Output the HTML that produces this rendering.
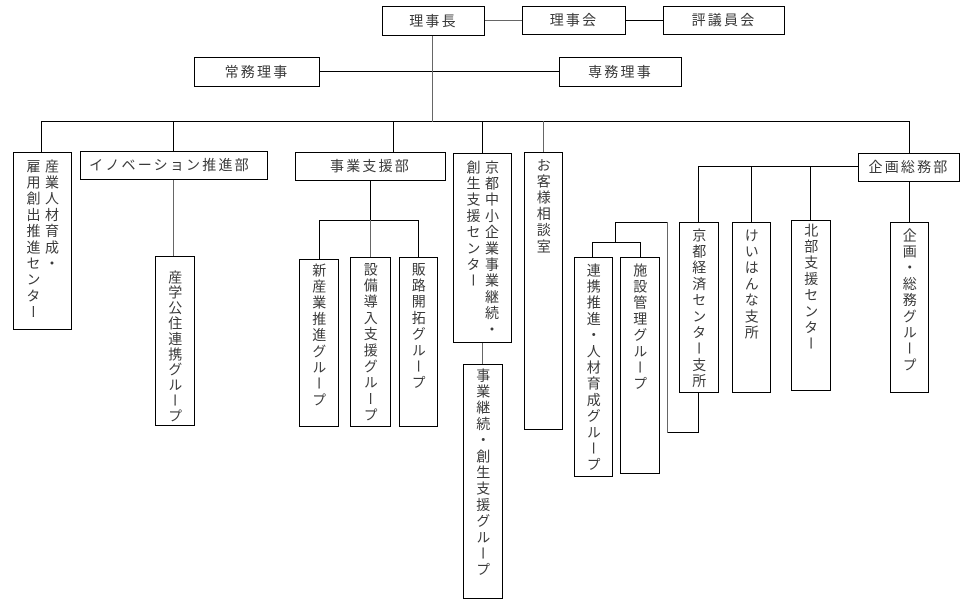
<!DOCTYPE html>
<html>
<head>
<meta charset="utf-8">
<style>
  html,body{margin:0;padding:0;background:#fff;}
  body{width:973px;height:605px;position:relative;overflow:hidden;
    font-family:"Liberation Sans","Noto Sans CJK JP",sans-serif;color:#3a3a3a;}
  svg{position:absolute;left:0;top:0;}
  .b{position:absolute;box-sizing:border-box;border:1px solid #000;background:#fff;}
  .h{text-align:center;font-size:14px;letter-spacing:2.2px;white-space:nowrap;}
  .v{display:flex;justify-content:center;align-items:flex-start;}
  .v>div{writing-mode:vertical-rl;font-size:14px;letter-spacing:2.2px;line-height:18.5px;white-space:nowrap;}
</style>
</head>
<body>
<svg width="973" height="605" viewBox="0 0 973 605" shape-rendering="crispEdges">
  <g fill="#000">
    <rect x="625" y="20" width="39" height="1"/>
    <rect x="319" y="71" width="241" height="1"/>
    <rect x="41" y="121" width="869" height="1"/>
    <rect x="41" y="121" width="1" height="32"/>
    <rect x="173" y="121" width="1" height="31"/>
    <rect x="393" y="121" width="1" height="32"/>
    <rect x="482" y="121" width="1" height="33"/>
    <rect x="909" y="121" width="1" height="33"/>
    <rect x="370" y="180" width="1" height="41"/>
    <rect x="319" y="220" width="100" height="1"/>
    <rect x="319" y="220" width="1" height="40"/>
    <rect x="418" y="220" width="1" height="38"/>
    <rect x="698" y="166" width="161" height="1"/>
    <rect x="698" y="166" width="1" height="57"/>
    <rect x="751" y="166" width="1" height="57"/>
    <rect x="810" y="166" width="1" height="55"/>
    <rect x="909" y="181" width="1" height="42"/>
    <rect x="698" y="392" width="1" height="41"/>
    <rect x="667" y="432" width="32" height="1"/>
    <rect x="615" y="222" width="53" height="1"/>
    <rect x="615" y="222" width="1" height="21"/>
    <rect x="592" y="242" width="49" height="1"/>
    <rect x="592" y="242" width="1" height="16"/>
    <rect x="640" y="242" width="1" height="16"/>
  </g>
  <g fill="#666">
    <rect x="484" y="20" width="39" height="1"/>
    <rect x="432" y="35" width="1" height="87"/>
    <rect x="543" y="121" width="1" height="32"/>
    <rect x="173" y="179" width="1" height="78"/>
    <rect x="370" y="220" width="1" height="38"/>
    <rect x="482" y="342" width="1" height="23"/>
    <rect x="667" y="222" width="1" height="211"/>
  </g>
</svg>

<!-- top row -->
<div class="b h" style="left:382px;top:6px;width:103px;height:30px;line-height:28px;">理事長</div>
<div class="b h" style="left:522px;top:6px;width:104px;height:29px;line-height:27px;">理事会</div>
<div class="b h" style="left:663px;top:6px;width:122px;height:29px;line-height:27px;">評議員会</div>
<div class="b h" style="left:194px;top:57px;width:126px;height:30px;line-height:28px;">常務理事</div>
<div class="b h" style="left:559px;top:57px;width:123px;height:30px;line-height:28px;">専務理事</div>

<!-- departments -->
<div class="b v" style="left:13px;top:152px;width:59px;height:178px;padding-top:6px;"><div>産業人材育成・<br>雇用創出推進センター</div></div>
<div class="b h" style="left:80px;top:151px;width:188px;height:29px;line-height:27px;padding-right:8px;">イノベーション推進部</div>
<div class="b v" style="left:155px;top:256px;width:40px;height:170px;padding-top:13px;"><div style="letter-spacing:1.4px;">産学公住連携グループ</div></div>

<div class="b h" style="left:295px;top:152px;width:151px;height:29px;line-height:27px;">事業支援部</div>
<div class="b v" style="left:299px;top:259px;width:40px;height:168px;padding-top:3px;"><div>新産業推進グループ</div></div>
<div class="b v" style="left:350px;top:257px;width:41px;height:170px;padding-top:4px;"><div>設備導入支援グループ</div></div>
<div class="b v" style="left:399px;top:257px;width:39px;height:170px;padding-top:4px;"><div>販路開拓グループ</div></div>

<div class="b v" style="left:453px;top:153px;width:59px;height:190px;padding-top:6px;"><div>京都中小企業事業継続・<br>創生支援センター</div></div>
<div class="b v" style="left:463px;top:364px;width:40px;height:235px;padding-top:3px;"><div>事業継続・創生支援グループ</div></div>

<div class="b v" style="left:524px;top:152px;width:39px;height:278px;padding-top:5px;"><div>お客様相談室</div></div>

<div class="b v" style="left:574px;top:257px;width:39px;height:220px;padding-top:5px;"><div>連携推進・人材育成グループ</div></div>
<div class="b v" style="left:620px;top:257px;width:40px;height:217px;padding-top:5px;"><div>施設管理グループ</div></div>

<div class="b v" style="left:679px;top:222px;width:40px;height:171px;padding-top:5px;"><div>京都経済センター支所</div></div>
<div class="b v" style="left:732px;top:222px;width:39px;height:171px;padding-top:5px;"><div>けいはんな支所</div></div>
<div class="b v" style="left:791px;top:220px;width:40px;height:171px;padding-top:2px;"><div>北部支援センター</div></div>

<div class="b h" style="left:858px;top:153px;width:102px;height:29px;line-height:27px;">企画総務部</div>
<div class="b v" style="left:890px;top:222px;width:39px;height:171px;padding-top:5px;"><div>企画・総務グループ</div></div>
</body>
</html>
